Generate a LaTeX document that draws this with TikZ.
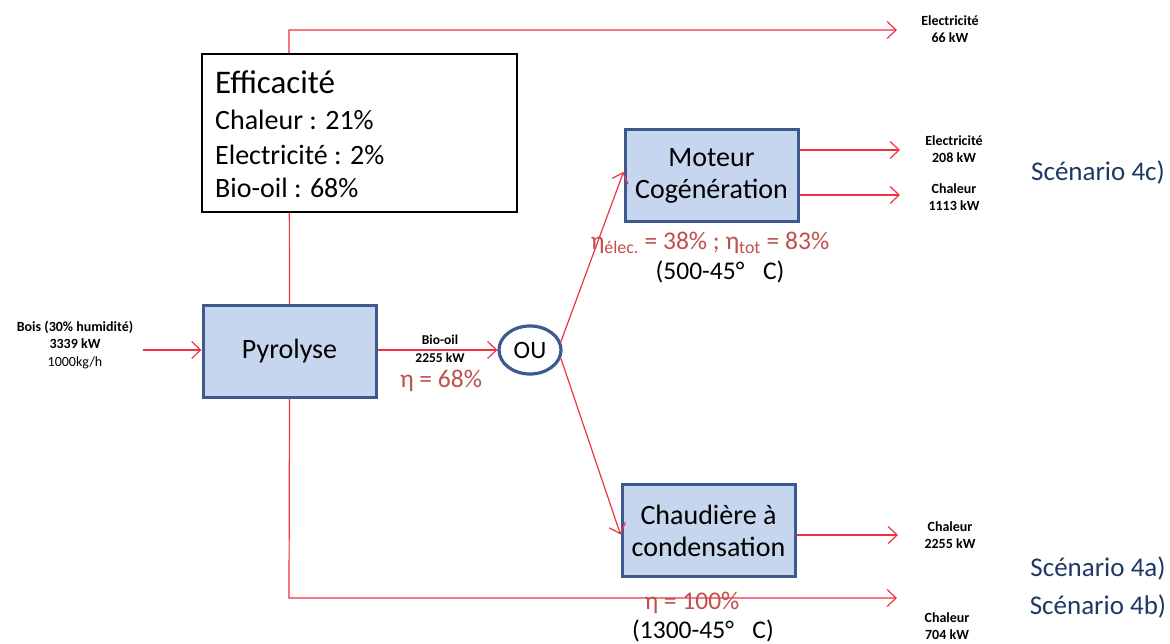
\documentclass[tikz,border=0pt]{standalone}
\usepackage{fontspec}
\setmainfont{Carlito}
\usetikzlibrary{arrows.meta,shapes.geometric}
\definecolor{boxfill}{HTML}{C6D6EE}
\definecolor{boxdraw}{HTML}{3E5A8C}
\definecolor{flow}{HTML}{EE3344}
\definecolor{eta}{HTML}{C0504D}
\definecolor{navy}{HTML}{1F3864}
\begin{document}
\begin{tikzpicture}[x=1pt,y=-1pt,
  proc/.style={draw=boxdraw, fill=boxfill, line width=3pt, minimum width=173pt, minimum height=92pt, inner sep=0pt, align=center, font=\fontsize{28}{32}\selectfont},
  flowline/.style={draw=flow, line width=1.2pt},
  arr/.style={flowline, -{Straight Barb[length=9pt,width=17pt]}},
  lab/.style={font=\bfseries\fontsize{14}{17.5}\selectfont, align=center, inner sep=0pt},
  etalab/.style={text=eta, font=\fontsize{25.5}{28}\selectfont, inner sep=0pt},
  templab/.style={text=black, font=\fontsize{25.5}{28}\selectfont, inner sep=0pt},
  scen/.style={text=navy, font=\fontsize{27}{30}\selectfont, inner sep=0pt}]
\fill[white] (0,0) rectangle (1170,644);
\useasboundingbox (0,0) rectangle (1170,644);

% process nodes
\node[proc] (pyro) at (289.5,351.5) {Pyrolyse};
\node[proc] (mot) at (711.5,176) {Moteur\\Cogénération};
\node[proc] (chaud) at (708.5,530.5) {Chaudière à\\condensation};
\node[draw=boxdraw, line width=3.2pt, ellipse, minimum width=62pt, minimum height=48pt, inner sep=0pt, font=\fontsize{25}{28}\selectfont] (ou) at (530,350) {OU};

% coordinates
\coordinate (tl) at (289,30);
\coordinate (bl) at (289,598);
\coordinate (inStart) at (143,350);
\coordinate (e66) at (897,30);
\coordinate (c704) at (897,598);
\coordinate (e208) at (900,150);
\coordinate (c1113) at (900,195);
\coordinate (c2255) at (898,535);

% flows
\draw[arr] (pyro.north) -- (tl) -- (e66);
\draw[arr] (pyro.south) -- (bl) -- (c704);
\draw[arr] (inStart) -- (pyro.west |- inStart);
\draw[arr] (pyro.east |- ou.west) -- (ou.west);
\draw[arr] (ou.15) -- ([yshift=4pt]mot.west);
\draw[arr] (ou.-15) -- ([yshift=-4pt]chaud.west);
\draw[arr] (mot.east |- e208) -- (e208);
\draw[arr] (mot.east |- c1113) -- (c1113);
\draw[arr] (chaud.east |- c2255) -- (c2255);

% efficiency box
\node[draw=black, line width=2.2pt, fill=white, minimum width=315pt, minimum height=158pt, inner sep=0pt] (eff) at (359.5,133) {};
\node[anchor=west, inner sep=0pt, font=\fontsize{33}{36}\selectfont] (effT) at (215,82) {Efficacité};
\node[anchor=west, inner sep=0pt, font=\fontsize{28}{30}\selectfont] (effC) at (215,120) {Chaleur : 21\%};
\node[anchor=west, inner sep=0pt, font=\fontsize{28}{30}\selectfont] (effE) at (215,155) {Electricité : 2\%};
\node[anchor=west, inner sep=0pt, font=\fontsize{28}{30}\selectfont] (effB) at (215,188) {Bio-oil : 68\%};

% labels
\node[lab, font=\bfseries\fontsize{13.5}{18.5}\selectfont] (bio) at (440,349) {Bio-oil\\2255 kW};
\node[lab] (bois) at (75,345) {Bois (30\% humidité)\\3339 kW\\\mdseries 1000kg/h};
\node[etalab] (eta68) at (441,381) {η = 68\%};
\node[lab] (l66) at (950,29) {Electricité\\66 kW};
\node[lab] (l208) at (954,149) {Electricité\\208 kW};
\node[lab] (l1113) at (954,197) {Chaleur\\1113 kW};
\node[lab] (l2255) at (950,535) {Chaleur\\2255 kW};
\node[lab] (l704) at (947,626) {Chaleur\\704 kW};
\node[etalab] (etaMot) at (710,243) {η\textsubscript{élec.} = 38\% ; η\textsubscript{tot} = 83\%};
\node[templab] (tMot) at (720,272) {(500-45°\,\,\, C)};
\node[etalab] (etaCh) at (692,603) {η = 100\%};
\node[templab] (tCh) at (703,631) {(1300-45°\,\,\, C)};
\node[scen] (s4c) at (1098,172) {Scénario 4c)};
\node[scen] (s4a) at (1098,568) {Scénario 4a)};
\node[scen] (s4b) at (1098,606) {Scénario 4b)};
\end{tikzpicture}
\end{document}
